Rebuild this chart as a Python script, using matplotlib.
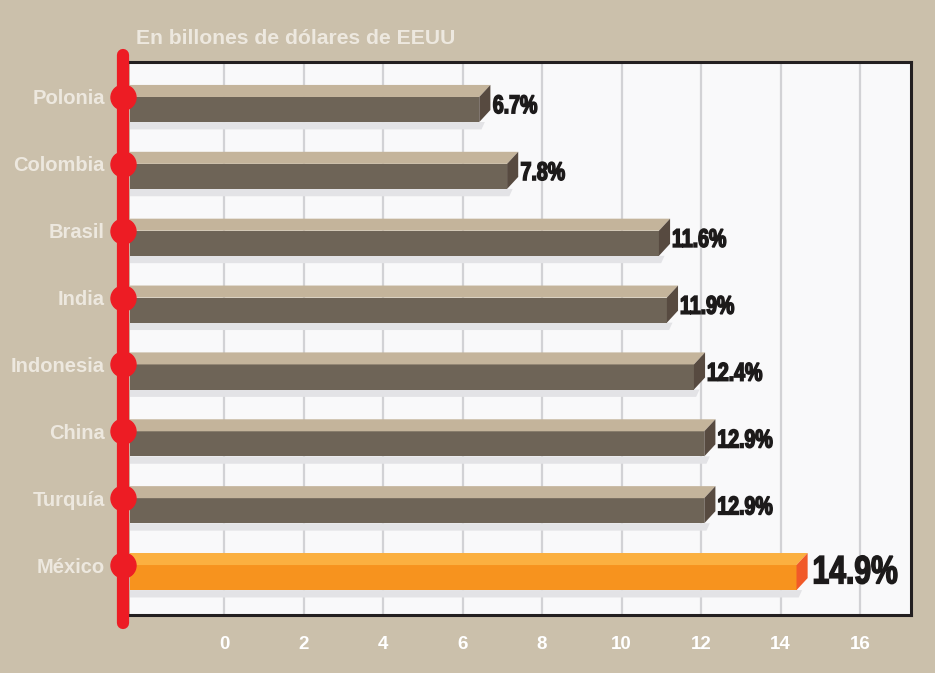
import numpy as np
import matplotlib.pyplot as plt
import matplotlib.transforms as mtransforms
from matplotlib.textpath import TextPath
from matplotlib.patches import PathPatch
from matplotlib.font_manager import FontProperties

countries = ["Polonia", "Colombia", "Brasil", "India", "Indonesia", "China", "Turquía", "México"]
pct_labels = ["6.7%", "7.8%", "11.6%", "11.9%", "12.4%", "12.9%", "12.9%", "14.9%"]
# bar lengths as drawn, read against the bottom axis
bar_len = [6.42, 7.12, 10.94, 11.14, 11.82, 12.08, 12.08, 14.40]
xticks = [0, 2, 4, 6, 8, 10, 12, 14, 16]
title = "En billones de dólares de EEUU"

bg = "#cbc0ab"
red = "#ed1c24"
top_brown, front_brown, cap_brown = "#c4b49b", "#6e6457", "#574a40"
top_or, front_or, cap_or = "#fbb040", "#f7931e", "#f15a29"

W, H = 935, 673
fig = plt.figure(figsize=(W / 100, H / 100), dpi=100, facecolor=bg)
ax = fig.add_axes([130 / W, 1 - 615 / H, (911 - 130) / W, (615 - 62) / H])
ax.set_facecolor("#f9f9fa")

x0, x1 = -2.365, 17.28
ax.set_xlim(x0, x1)
ax.set_ylim(7.747, -0.523)

bold = FontProperties(family="Liberation Sans", weight="bold")


def narrow_text(x, y, s, size, color, sx=0.76):
    # bold text squeezed sideways, left edge at (x, y), vertically centred
    tp = TextPath((0, 0), s, size=size, prop=bold)
    bb = tp.get_extents()
    k = fig.dpi / 72
    tr = (mtransforms.Affine2D().translate(-bb.x0, -(bb.y0 + bb.y1) / 2).scale(sx * k, k)
          + mtransforms.ScaledTranslation(x, y, ax.transData))
    ax.add_patch(PathPatch(tp, transform=tr, color=color, lw=1.1, clip_on=False, zorder=3))


for t in xticks:
    ax.axvline(t, color="#d2d2d5", lw=1.6, zorder=0)

dx = 0.28      # depth offset in x units
h = 0.18       # top face height in y units
fh = 0.375     # front face height

for i, (name, L, lab) in enumerate(zip(countries, bar_len, pct_labels)):
    mex = name == "México"
    ctop, cfront, ccap = (top_or, front_or, cap_or) if mex else (top_brown, front_brown, cap_brown)
    # shadow
    ax.fill([x0, L + dx * 0.5, L + dx * 0.2, x0], [i + fh, i + fh, i + fh + 0.11, i + fh + 0.11],
            color="#e3e3e6", lw=0, zorder=1)
    # front face
    ax.fill([x0, L, L, x0], [i, i, i + fh, i + fh], color=cfront, lw=0, zorder=2)
    # top face
    ax.fill([x0, L, L + dx, x0], [i, i, i - h, i - h], color=ctop, lw=0, zorder=2)
    # end cap
    ax.fill([L, L + dx, L + dx, L], [i, i - h, i - h + fh, i + fh], color=ccap, lw=0, zorder=2)
    if mex:
        narrow_text(L + dx + 0.17, i + 0.07, lab, 28.5, "#1c1a1a")
    else:
        narrow_text(L + dx + 0.08, i + 0.11, lab, 18.5, "#1c1a1a")

# red axis line with dots
xr = x0 - 6.5 / 39.75
ax.plot([xr, xr], [-0.628, 7.867], color=red, lw=8.8, solid_capstyle="round",
        clip_on=False, zorder=5)
ax.plot([xr] * len(countries), range(len(countries)), "o", color=red, ms=18,
        clip_on=False, zorder=6)

ax.set_yticks(range(len(countries)))
ax.set_yticklabels(countries, fontsize=14.5, fontweight="bold", family="Liberation Sans",
                   color="#ede8df")
ax.tick_params(axis="y", length=0, pad=18)
ax.set_xticks(xticks)
ax.set_xticklabels([str(t) for t in xticks], fontsize=13.5, fontweight="bold",
                   family="Liberation Sans", color="#ffffff")
ax.tick_params(axis="x", length=0, pad=15)

for s in ["top", "right", "bottom"]:
    ax.spines[s].set_color("#231f20")
    ax.spines[s].set_linewidth(2.2)
ax.spines["left"].set_visible(False)

fig.text(136 / W, 1 - 39 / H, title, fontsize=15.2, fontweight="bold", family="Liberation Sans",
         color="#ede8df", ha="left", va="center")

fig.savefig("out.png", dpi=100, facecolor=bg)
